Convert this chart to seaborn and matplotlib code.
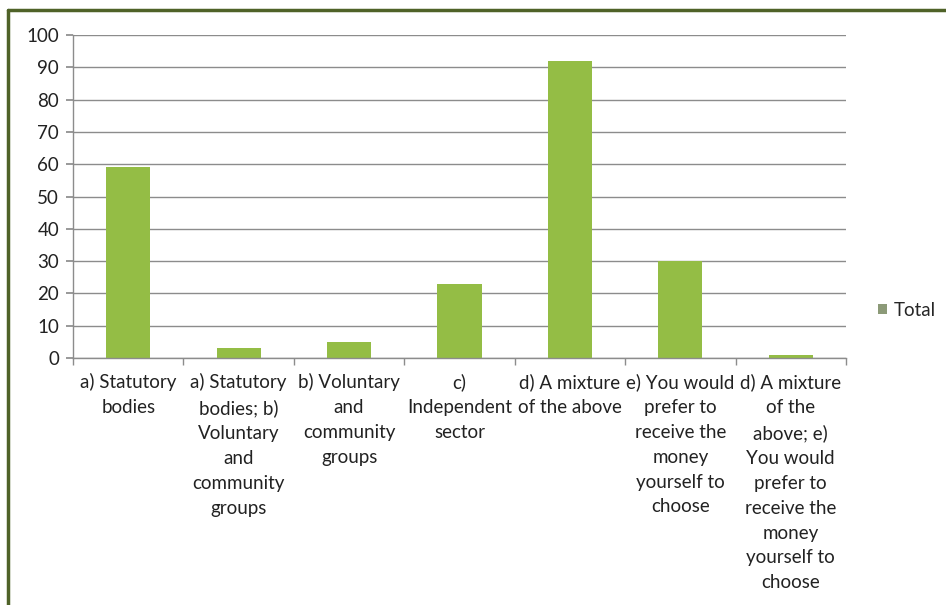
import matplotlib
matplotlib.use("Agg")
import matplotlib.pyplot as plt
from matplotlib.lines import Line2D
from matplotlib.patches import Patch
import seaborn as sns
import pandas as pd
import numpy as np

categories = [
    "a) Statutory\nbodies",
    "a) Statutory\nbodies; b)\nVoluntary\nand\ncommunity\ngroups",
    "b) Voluntary\nand\ncommunity\ngroups",
    "c)\nIndependent\nsector",
    "d) A mixture\nof the above",
    "e) You would\nprefer to\nreceive the\nmoney\nyourself to\nchoose",
    "d) A mixture\nof the\nabove; e)\nYou would\nprefer to\nreceive the\nmoney\nyourself to\nchoose",
]
totals = [59, 3, 5, 23, 92, 30, 1]
y_ticks = [0, 10, 20, 30, 40, 50, 60, 70, 80, 90, 100]
series_name = "Total"

sns.set_theme(style="white")
plt.rcParams['font.family'] = ['Lato', 'DejaVu Sans']

df = pd.DataFrame({"cat": categories, "val": totals})

fig = plt.figure(figsize=(9.46, 6.05), dpi=100)
ax = fig.add_axes([73/946, 1-358/605, (846-73)/946, (358-35)/605])

bar_color = "#94BD45"
sns.barplot(data=df, x="cat", y="val", color=bar_color, width=0.4,
            saturation=1, ax=ax, edgecolor="none")

ax.set_ylim(0, 100)
ax.set_xlim(-0.5, len(categories) - 0.5)
ax.set_yticks(y_ticks)
ax.set_xlabel("")
ax.set_ylabel("")
ax.yaxis.grid(True, color="#8c8c8c", linewidth=1)
ax.set_axisbelow(True)
for s in ["top", "right"]:
    ax.spines[s].set_visible(False)
for s in ["left", "bottom"]:
    ax.spines[s].set_color("#8c8c8c")
    ax.spines[s].set_linewidth(1)

ax.tick_params(axis="y", left=True, length=5, color="#8c8c8c", labelsize=13.5,
               labelcolor="#222222", pad=5)
ax.set_xticks(np.arange(len(categories)))
ax.set_xticklabels(categories, fontsize=13.5, color="#222222", linespacing=1.56,
                   va="top")
ax.tick_params(axis="x", which="major", length=0, pad=11)
ax.set_xticks(np.arange(-0.5, len(categories), 1), minor=True)
ax.tick_params(axis="x", which="minor", bottom=True, length=5, color="#8c8c8c")

handle = Patch(facecolor="#8c9a78", edgecolor="none")
fig.legend([handle], [series_name], loc="center left",
           bbox_to_anchor=(861/946, 1-310/605), frameon=False,
           fontsize=13.5, handlelength=0.5, handleheight=0.5, handletextpad=0.35)

# outer chart border (dark green)
border_col = "#4F6228"
fig.add_artist(Line2D([8/946, 8/946], [0, 1-10/605], transform=fig.transFigure,
                      color=border_col, linewidth=2.5))
fig.add_artist(Line2D([8/946, 1], [1-10/605, 1-10/605], transform=fig.transFigure,
                      color=border_col, linewidth=2.5))

fig.savefig("out.png", dpi=100)
